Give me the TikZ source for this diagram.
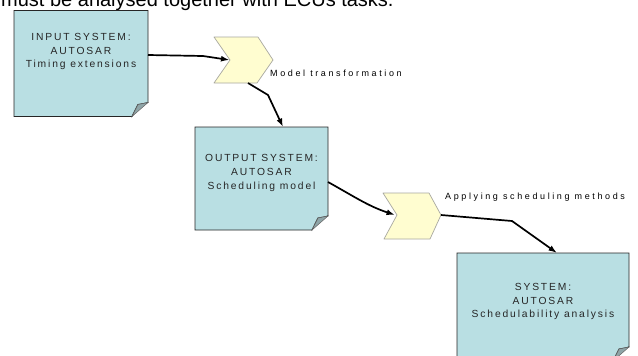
\documentclass[tikz,border=0pt]{standalone}
\usepackage{fontspec}
\setmainfont{Liberation Sans}
\newfontfamily\boxfont[LetterSpace=18]{Liberation Sans}
\newfontfamily\labfont[LetterSpace=29]{Liberation Sans}
\usetikzlibrary{arrows.meta,calc}
\definecolor{boxfill}{HTML}{B9DFE3}
\definecolor{chevfill}{HTML}{FFFDD0}
\definecolor{chevline}{HTML}{A8A8A0}
\definecolor{flapgray}{HTML}{8FA5A8}
\tikzset{
  holder/.style={draw=none,inner sep=0pt,outer sep=0pt,rectangle},
  boxtext/.style={align=center,inner sep=0pt,text=black!85,font=\boxfont\fontsize{10.3}{13.8}\selectfont},
  labtext/.style={anchor=west,inner sep=0pt,text=black,font=\labfont\fontsize{9}{11}\selectfont},
  chevshape/.style={fill=chevfill,draw=chevline,line width=0.7pt,line join=round},
  arr/.style={line width=1.7pt,-{Latex[length=8.5pt,width=6pt]}},
}
\newcommand\foldbox[1]{%
  \filldraw[fill=boxfill,draw=black!85,line width=0.9pt]
    (#1.north west) -- (#1.north east) -- ([yshift=14pt]#1.south east)
    .. controls ([xshift=-4pt,yshift=13pt]#1.south east) .. ([xshift=-10pt,yshift=12pt]#1.south east)
    .. controls ([xshift=-13pt,yshift=6pt]#1.south east) .. ([xshift=-16pt]#1.south east)
    -- (#1.south west) -- cycle;
  \filldraw[fill=flapgray,draw=black!60,line width=0.5pt]
    ([yshift=14pt]#1.south east) -- ([xshift=-10pt,yshift=12pt]#1.south east)
    -- ([xshift=-16pt]#1.south east) -- cycle;
}
\begin{document}
\begin{tikzpicture}[x=1pt,y=-1pt]
\useasboundingbox (0,0) rectangle (638,356);
\clip (0,0) rectangle (638,356);
\fill[white] (0,0) rectangle (638,356);

% cut-off caption line at the top
\node[anchor=base west,inner sep=0pt,font=\fontsize{20}{24}\selectfont] (cap) at (1,6.5) {must be analysed together with ECUs tasks.};

% boxes
\node[holder,minimum width=134pt,minimum height=106pt] (b1) at (81,63.5) {};
\node[holder,minimum width=133pt,minimum height=103pt] (b2) at (261.5,178.5) {};
\node[holder,minimum width=172pt,minimum height=108pt] (b3) at (543,307) {};
\foldbox{b1}
\foldbox{b2}
\foldbox{b3}
\node[boxtext] (t1) at (81,51.5) {INPUT SYSTEM:\\AUTOSAR\\Timing extensions};
\node[boxtext] (t2) at (261.5,173) {OUTPUT SYSTEM:\\AUTOSAR\\Scheduling model};
\node[boxtext] (t3) at (543,301.5) {SYSTEM:\\AUTOSAR\\Schedulability analysis};

% chevrons
\node[holder,minimum width=59pt,minimum height=46pt] (c1) at (243.5,60) {};
\node[holder,minimum width=58pt,minimum height=46pt] (c2) at (412,216) {};
\draw[chevshape] (c1.center) ++(-29.5,-23) -- ++(44,0) -- ++(15,23) -- ++(-16,23) -- ++(-43,0) -- ++(16,-23) -- cycle;
\draw[chevshape] (c2.center) ++(-29,-23) -- ++(46,0) -- ++(12,22) -- ++(-11,24) -- ++(-46,0) -- ++(13,-24) -- cycle;
\coordinate (n1) at ($(c1.center)+(-14,0)$);
\coordinate (p1) at ($(c1.center)+(29.5,0)$);
\coordinate (n2) at ($(c2.center)+(-17,-1)$);
\coordinate (p2) at ($(c2.center)+(29,-1)$);

\node[labtext] (l1) at (270,73) {Model transformation};
\node[labtext] (l2) at (445,197) {Applying scheduling methods};

% connectors
\draw[arr] ([yshift=8.5pt]b1.east) -- (203,56) -- (n1);
\draw[arr] ([xshift=4.5pt]c1.south) -- (268,95) -- ([xshift=21.5pt]b2.north);
\draw[arr] ([yshift=-3.5pt]b2.east) .. controls (355,197) and (368,206) .. (n2);
\draw[arr] (p2) -- (512,221) -- ([xshift=14pt]b3.north);
\end{tikzpicture}
\end{document}
